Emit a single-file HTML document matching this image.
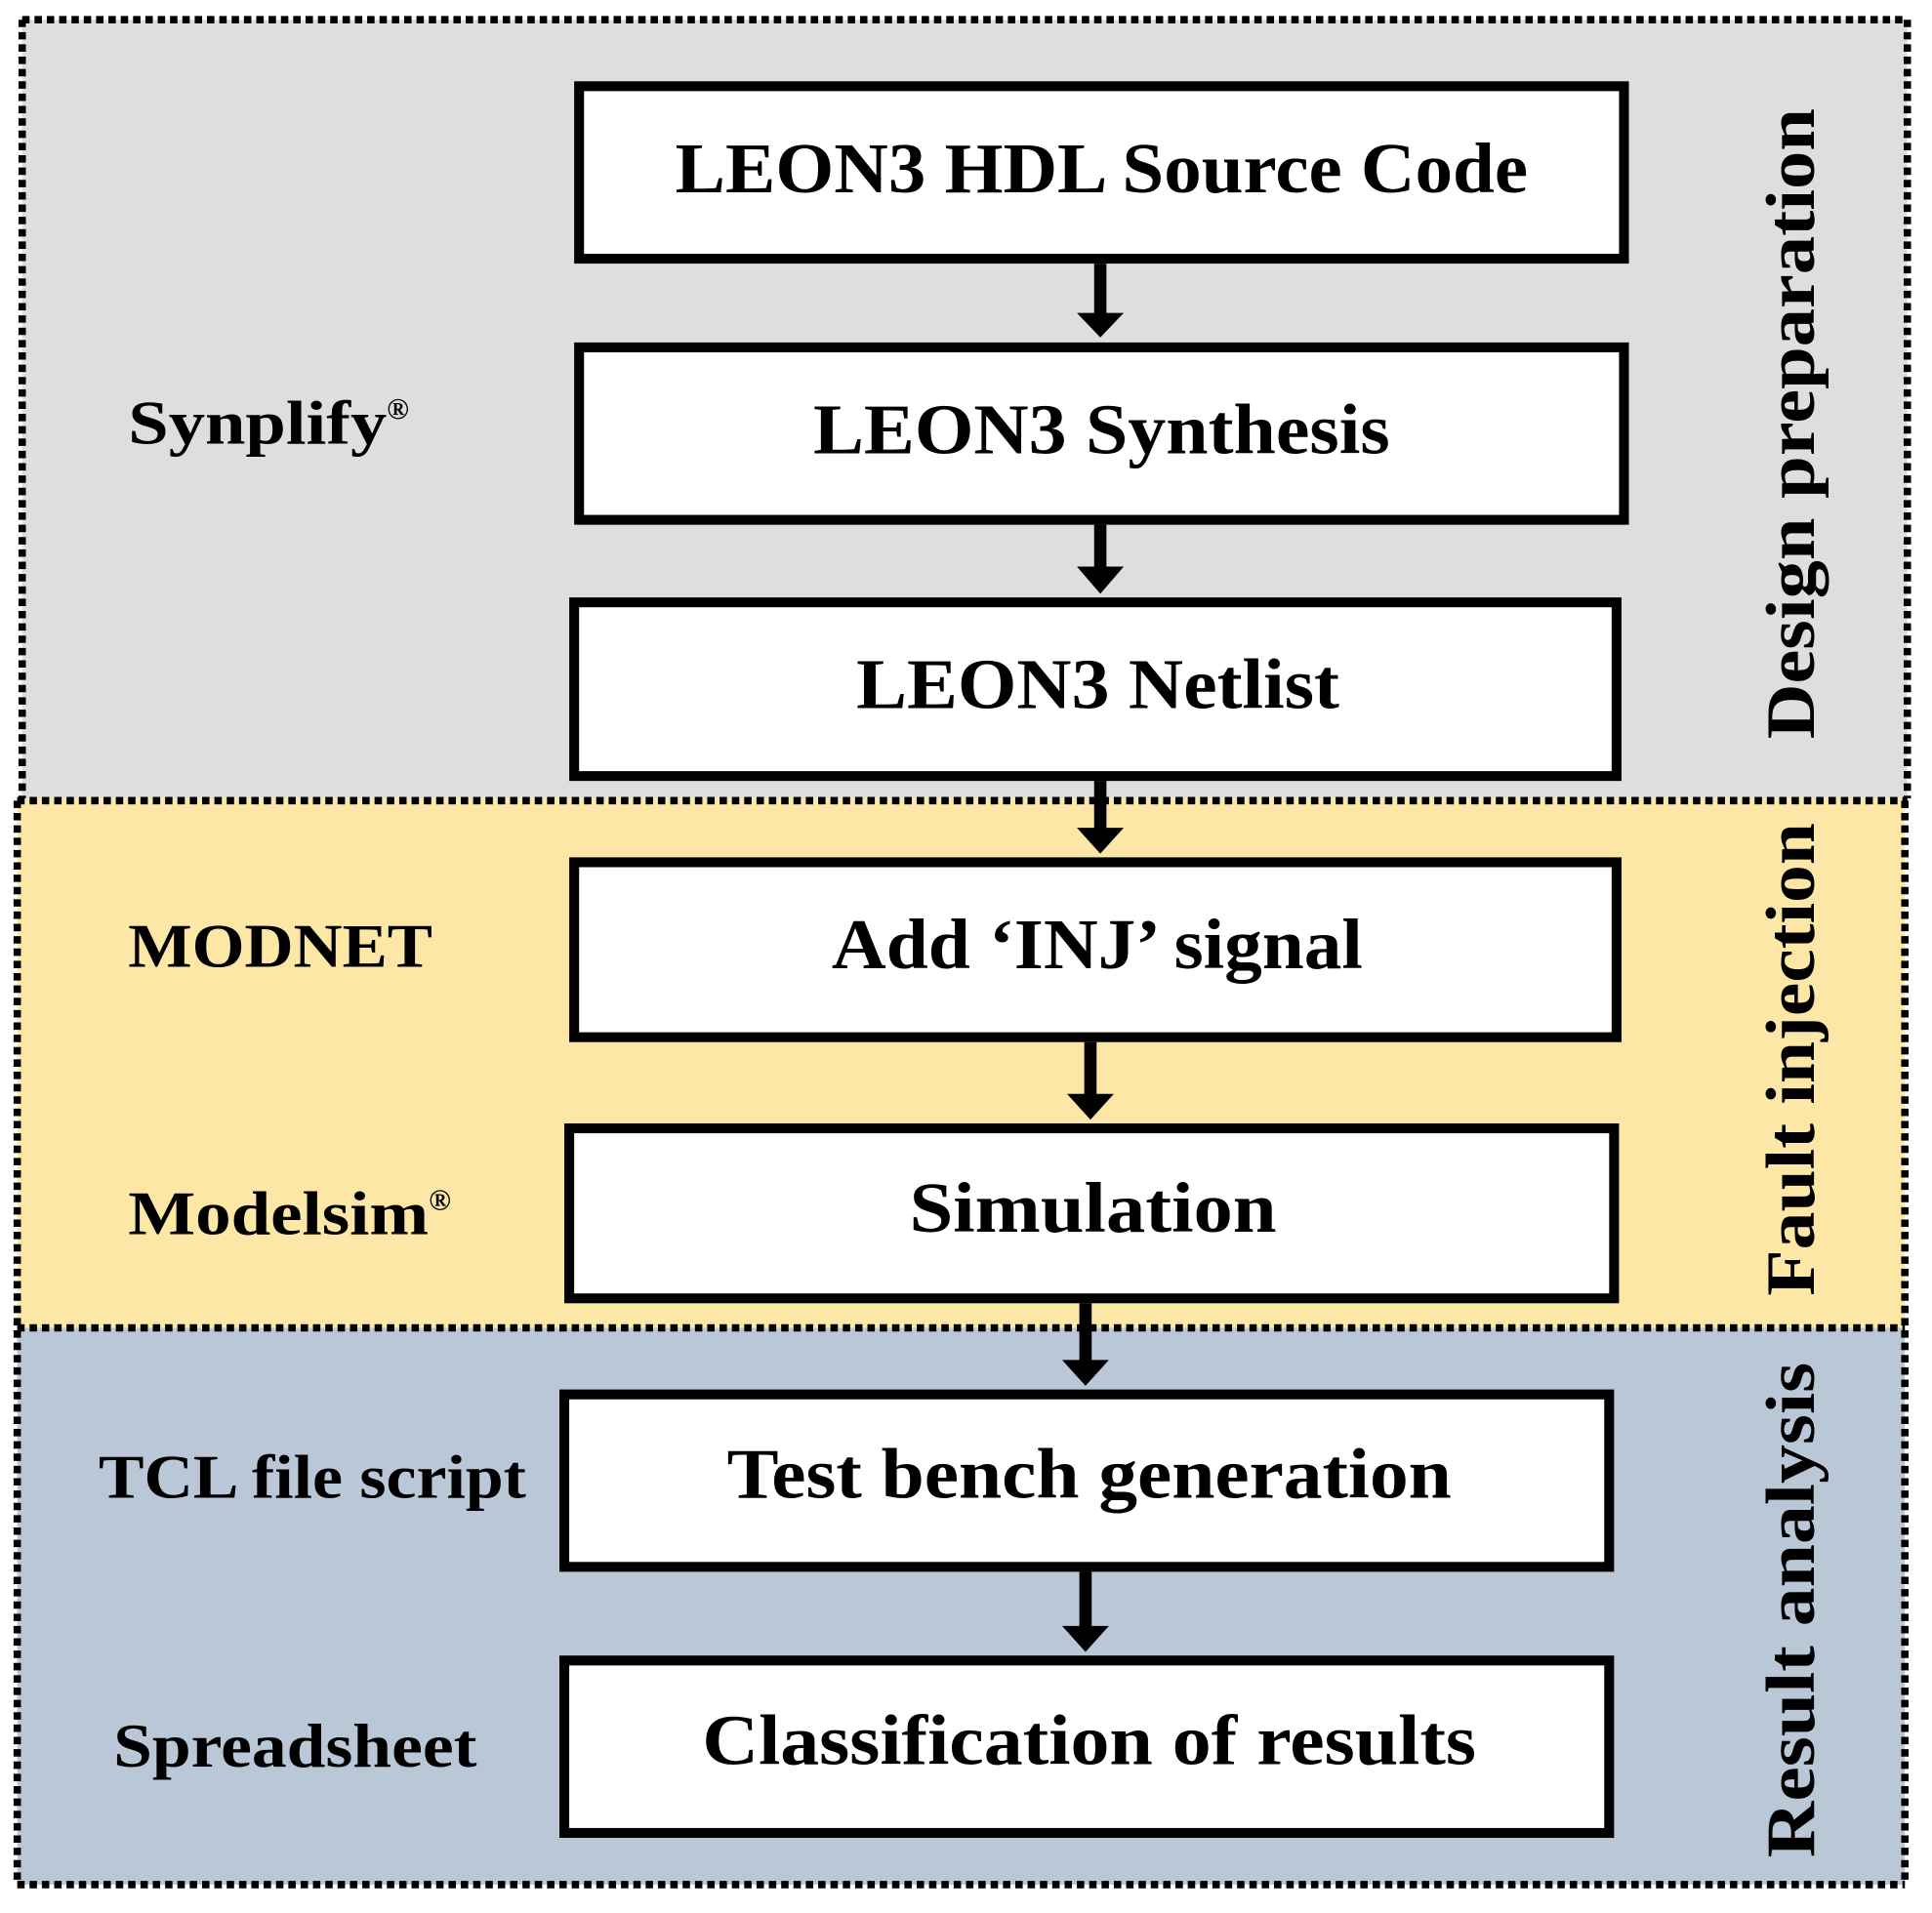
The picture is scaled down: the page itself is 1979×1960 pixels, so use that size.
<!DOCTYPE html>
<html><head><meta charset="utf-8"><style>html,body{margin:0;padding:0;background:#fff}svg{display:block}</style></head><body>
<svg width="1979" height="1960" viewBox="0 0 1568 1553" preserveAspectRatio="none" xmlns="http://www.w3.org/2000/svg">
<rect x="18" y="16" width="1530" height="632" fill="#dedede"/>
<rect x="14" y="648" width="1532" height="430" fill="#fde7a6"/>
<rect x="14" y="1078" width="1532" height="452" fill="#bac7d6"/>
<g fill="none" stroke="#000" stroke-width="6" stroke-dasharray="6,4">
<line x1="18" y1="16" x2="1548" y2="16"/>
<line x1="18" y1="16" x2="18" y2="648"/>
<line x1="1548" y1="16" x2="1548" y2="648"/>
<line x1="14" y1="650" x2="1548" y2="650"/>
<line x1="14" y1="650" x2="14" y2="1530"/>
<line x1="1546" y1="650" x2="1546" y2="1530"/>
<line x1="14" y1="1078" x2="1546" y2="1078"/>
<line x1="14" y1="1530" x2="1546" y2="1530"/>
</g>
<g fill="#fff" stroke="#000" stroke-width="8">
<rect x="470" y="70" width="848" height="140"/>
<rect x="470" y="282" width="848" height="140"/>
<rect x="466" y="489" width="846" height="141"/>
<rect x="466" y="700" width="846" height="142"/>
<rect x="462" y="916" width="848" height="138"/>
<rect x="458" y="1132" width="848" height="140"/>
<rect x="458" y="1348" width="848" height="140"/>
</g>
<g stroke="#000" stroke-width="10">
<line x1="893" y1="214" x2="893" y2="256"/>
<line x1="893" y1="426" x2="893" y2="462"/>
<line x1="893" y1="634" x2="893" y2="674"/>
<line x1="885" y1="846" x2="885" y2="890"/>
<line x1="881" y1="1058" x2="881" y2="1106"/>
<line x1="881" y1="1276" x2="881" y2="1322"/>
</g>
<g fill="#000">
<polygon points="874,254 912,254 893,274"/>
<polygon points="874,460 912,460 893,482"/>
<polygon points="874,672 912,672 893,693"/>
<polygon points="866,888 904,888 885,909"/>
<polygon points="862,1104 900,1104 881,1125"/>
<polygon points="862,1320 900,1320 881,1341"/>
</g>
<g font-family="Liberation Serif, serif" font-weight="bold" font-size="58" fill="#000">
<text x="548" y="156" textLength="692" lengthAdjust="spacingAndGlyphs">LEON3 HDL Source Code</text>
<text x="660" y="368" textLength="468" lengthAdjust="spacingAndGlyphs">LEON3 Synthesis</text>
<text x="695" y="575" textLength="392" lengthAdjust="spacingAndGlyphs">LEON3 Netlist</text>
<text x="675" y="786" textLength="431" lengthAdjust="spacingAndGlyphs">Add ‘INJ’ signal</text>
<text x="738" y="1000" textLength="298" lengthAdjust="spacingAndGlyphs">Simulation</text>
<text x="590" y="1216" textLength="588" lengthAdjust="spacingAndGlyphs">Test bench generation</text>
<text x="570" y="1432" textLength="628" lengthAdjust="spacingAndGlyphs">Classification of results</text>
</g>
<g font-family="Liberation Serif, serif" font-weight="bold" font-size="50" fill="#000">
<text x="104" y="360"><tspan textLength="210" lengthAdjust="spacingAndGlyphs">Synplify</tspan><tspan font-size="24" dy="-20">®</tspan></text>
<text x="104" y="785" textLength="247" lengthAdjust="spacingAndGlyphs">MODNET</text>
<text x="104" y="1002"><tspan textLength="244" lengthAdjust="spacingAndGlyphs">Modelsim</tspan><tspan font-size="24" dy="-20">®</tspan></text>
<text x="80" y="1216" textLength="347" lengthAdjust="spacingAndGlyphs">TCL file script</text>
<text x="92" y="1434" textLength="295" lengthAdjust="spacingAndGlyphs">Spreadsheet</text>
</g>
<g font-family="Liberation Serif, serif" font-weight="bold" font-size="56" fill="#000">
<text transform="translate(1472,600) rotate(-90)" textLength="512" lengthAdjust="spacingAndGlyphs">Design preparation</text>
<text transform="translate(1472,1052) rotate(-90)" textLength="384" lengthAdjust="spacingAndGlyphs">Fault injection</text>
<text transform="translate(1472,1508) rotate(-90)" textLength="402" lengthAdjust="spacingAndGlyphs">Result analysis</text>
</g>
</svg>
</body></html>
